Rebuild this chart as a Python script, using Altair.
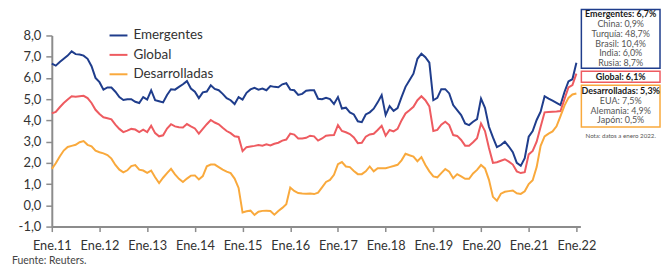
import altair as alt
import pandas as pd

# Monthly inflation, Jan 2011 .. Jan 2022 (133 months)
emergentes = [
    6.67, 6.58, 6.75, 6.90, 7.05, 7.25, 7.12, 7.10, 7.05, 6.90, 6.55, 6.00,
    5.80, 5.45, 5.55, 5.55, 5.35, 5.10, 4.96, 5.00, 5.00, 4.88, 4.82, 5.10,
    4.98, 5.42, 4.95, 4.90, 4.85, 5.20, 5.47, 5.45, 5.58, 5.70, 5.85, 5.50,
    5.35, 5.05, 5.32, 5.36, 5.65, 5.48, 5.42, 5.25, 5.05, 4.95, 4.77, 5.10,
    4.98, 5.30, 5.46, 5.53, 5.45, 5.50, 5.42, 5.62, 5.58, 5.56, 5.70, 5.75,
    5.45, 5.42, 5.20, 5.25, 5.40, 5.42, 5.42, 5.02, 5.00, 5.06, 5.00, 4.77,
    5.10, 4.56, 4.60, 4.38, 4.28, 3.96, 3.92, 4.28, 4.38, 4.55, 4.85, 5.19,
    4.25, 4.67, 4.45, 4.58, 5.10, 5.58, 5.89, 6.20, 6.90, 7.14, 6.98, 6.72,
    4.95, 5.06, 5.47, 5.47, 5.27, 4.72, 4.48, 4.25, 3.86, 3.78, 3.94, 4.06,
    5.03, 4.59, 3.70, 3.20, 2.74, 2.84, 3.00, 2.77, 2.50, 2.00, 1.86, 2.22,
    3.23, 3.50, 4.02, 4.41, 5.14, 5.03, 4.93, 4.83, 4.72, 5.34, 5.84, 5.94,
    6.72,
]
global_ = [
    4.33, 4.40, 4.62, 4.82, 4.98, 5.14, 5.12, 5.14, 5.16, 5.05, 4.82, 4.50,
    4.30, 4.15, 4.10, 4.05, 3.80, 3.60, 3.45, 3.52, 3.60, 3.57, 3.45, 3.56,
    3.45, 3.75, 3.40, 3.25, 3.30, 3.62, 3.82, 3.72, 3.68, 3.67, 3.83, 3.72,
    3.62, 3.38, 3.60, 3.82, 4.02, 3.90, 3.82, 3.65, 3.50, 3.40, 3.25, 3.22,
    2.55, 2.74, 2.77, 2.80, 2.84, 2.81, 2.87, 2.82, 2.90, 2.95, 3.05, 3.10,
    3.38, 3.33, 3.15, 3.15, 3.18, 3.28, 3.25, 3.05, 3.15, 3.28, 3.30, 3.31,
    3.78, 3.50, 3.44, 3.36, 3.20, 2.93, 2.95, 3.23, 3.34, 3.37, 3.55, 3.75,
    3.28, 3.55, 3.48, 3.60, 4.00, 4.33, 4.48, 4.64, 4.95, 5.14, 4.95, 4.66,
    3.50, 3.55, 3.80, 3.94, 3.78, 3.31, 3.27, 3.08, 2.81, 2.81, 2.97, 3.16,
    3.86, 3.50, 2.70, 2.00, 2.03, 2.10, 2.17, 2.06, 1.92, 1.60, 1.52, 1.56,
    2.40, 2.56, 3.00, 3.70, 4.38, 4.40, 4.41, 4.42, 4.44, 5.00, 5.55, 5.66,
    6.20,
]
desarrolladas = [
    1.72, 1.98, 2.30, 2.58, 2.75, 2.80, 2.85, 2.97, 3.03, 2.85, 2.78, 2.57,
    2.50, 2.45, 2.37, 2.20, 1.90, 1.68, 1.55, 1.65, 1.85, 1.90, 1.68, 1.64,
    1.53, 1.64, 1.32, 1.05, 1.30, 1.52, 1.72, 1.46, 1.25, 1.10, 1.26, 1.40,
    1.41, 1.22, 1.38, 1.84, 1.92, 1.92, 1.80, 1.68, 1.59, 1.52, 1.26, 0.82,
    -0.34, -0.28, -0.25, -0.45, -0.30, -0.26, -0.25, -0.27, -0.44, -0.27, -0.12, 0.05,
    0.84, 0.68, 0.58, 0.56, 0.55, 0.56, 0.53, 0.60, 0.85, 1.10, 1.20, 1.44,
    1.94, 2.04, 1.83, 1.80, 1.62, 1.47, 1.47, 1.60, 1.83, 1.60, 1.75, 1.75,
    1.75, 1.80, 1.85, 1.91, 2.12, 2.43, 2.36, 2.30, 2.08, 2.27, 1.90, 1.60,
    1.36, 1.32, 1.52, 1.71, 1.58, 1.28, 1.47, 1.36, 1.25, 1.25, 1.50, 1.67,
    1.90, 1.74, 1.20, 0.40, 0.22, 0.55, 0.64, 0.67, 0.70, 0.57, 0.54, 0.66,
    1.00, 1.18, 1.80, 2.80, 3.25, 3.38, 3.48, 3.72, 4.20, 4.70, 5.06, 5.22,
    5.27,
]

series_names = ["Emergentes", "Global", "Desarrolladas"]
series_colors = ["#1f3d8c", "#ee5b60", "#f9a93c"]
year_labels = ["Ene.11", "Ene.12", "Ene.13", "Ene.14", "Ene.15", "Ene.16",
               "Ene.17", "Ene.18", "Ene.19", "Ene.20", "Ene.21", "Ene.22"]
y_ticks = [-1, 0, 1, 2, 3, 4, 5, 6, 7, 8]

box_emergentes = ["Emergentes: 6,7%", "China: 0,9%", "Turquía: 48,7%",
                  "Brasil: 10,4%", "India: 6,0%", "Rusia: 8,7%"]
box_global = ["Global: 6,1%"]
box_desarrolladas = ["Desarrolladas: 5,3%", "EUA: 7,5%", "Alemania: 4,9%", "Japón: 0,5%"]
nota = "Nota: datos a enero 2022."
fuente = "Fuente: Reuters."

dates = pd.date_range("2011-01-01", periods=len(emergentes), freq="MS")
rows = []
for name, vals in zip(series_names, [emergentes, global_, desarrolladas]):
    for i, (d, v) in enumerate(zip(dates, vals)):
        rows.append({"serie": name, "fecha": d.strftime("%Y-%m"), "m": i, "valor": v})
df = pd.DataFrame(rows)

FONT = "Lato"
W, H = 531, 192

tick_vals = [12 * i for i in range(len(year_labels))]
label_map = "{" + ",".join(f"'{v}':'{t}'" for v, t in zip(tick_vals, year_labels)) + "}"

lines = alt.Chart(df).mark_line(strokeWidth=2).encode(
    x=alt.X("m:Q", scale=alt.Scale(domain=[0, 133], nice=False, zero=False),
            axis=alt.Axis(values=tick_vals, labelExpr=f"{label_map}[datum.value]",
                          title=None, grid=False, tickSize=5, labelPadding=8,
                          labelFontSize=12.8, labelFlush=False, labelOverlap=False)),
    y=alt.Y("valor:Q", scale=alt.Scale(domain=[-1.0005, 8], nice=False, zero=False),
            axis=alt.Axis(values=y_ticks,
                          labelExpr="(datum.value < 0 ? '-' : '') + replace(format(abs(datum.value), '.1f'), '.', ',')",
                          title=None, grid=False, tickSize=6, labelPadding=5,
                          labelFontSize=13, labelOverlap=False, labelFlush=False)),
    color=alt.Color("serie:N",
                    scale=alt.Scale(domain=series_names, range=series_colors),
                    sort=series_names,
                    legend=alt.Legend(orient="none", legendX=57, legendY=-10,
                                      title=None, symbolType="stroke",
                                      symbolSize=324, symbolStrokeWidth=2,
                                      labelFont=FONT, labelFontSize=13.5,
                                      labelColor="#333333", labelOffset=5,
                                      rowPadding=2.5, padding=0)),
    order="m:Q",
)

layers = [lines]

BX0, BX1 = 532, 611
CX = (BX0 + BX1) / 2
STEP = 9.8


def box(top, bottom, color):
    return alt.Chart(pd.DataFrame({"k": [0]})).mark_rect(
        fill="white", fillOpacity=0, stroke=color, strokeWidth=1.5
    ).encode(x=alt.value(BX0), x2=alt.value(BX1), y=alt.value(top), y2=alt.value(bottom))


def text_block(texts, first_y, bold_first=True):
    out = []
    for i, t in enumerate(texts):
        bold = bold_first and i == 0
        out.append(
            alt.Chart(pd.DataFrame({"label": [t]})).mark_text(
                font=FONT, fontSize=9, fontWeight="bold" if bold else "normal",
                color="#1a1a1a" if bold else "#555555",
                align="center", baseline="middle",
            ).encode(x=alt.value(CX), y=alt.value(first_y + i * STEP), text="label:N")
        )
    return out


layers.append(box(-26, 33, series_colors[0]))
layers += text_block(box_emergentes, -21.3)
layers.append(box(36, 47, series_colors[1]))
layers += text_block(box_global, 41.5)
layers.append(box(50, 92, series_colors[2]))
layers += text_block(box_desarrolladas, 55.8)

layers.append(
    alt.Chart(pd.DataFrame({"label": [nota]})).mark_text(
        font=FONT, fontSize=6.2, color="#555555", align="center", baseline="middle"
    ).encode(x=alt.value(CX), y=alt.value(100.7), text="label:N")
)
layers.append(
    alt.Chart(pd.DataFrame({"label": [fuente]})).mark_text(
        font=FONT, fontSize=10.5, color="#444444", align="left", baseline="middle"
    ).encode(x=alt.value(-40), y=alt.value(227), text="label:N")
)

chart = alt.layer(*layers).properties(
    width=W, height=H,
    autosize=alt.AutoSizeParams(type="none"),
    padding={"left": 44, "top": 27, "right": 82, "bottom": 40},
    background="white",
).configure_view(stroke=None).configure_axis(
    domainColor="#8c8c8c", domainWidth=2, tickColor="#8c8c8c", tickWidth=1.5,
    labelFont=FONT, labelColor="#333333",
)

chart.save("out.html", embed_options={"renderer": "svg", "actions": False})
